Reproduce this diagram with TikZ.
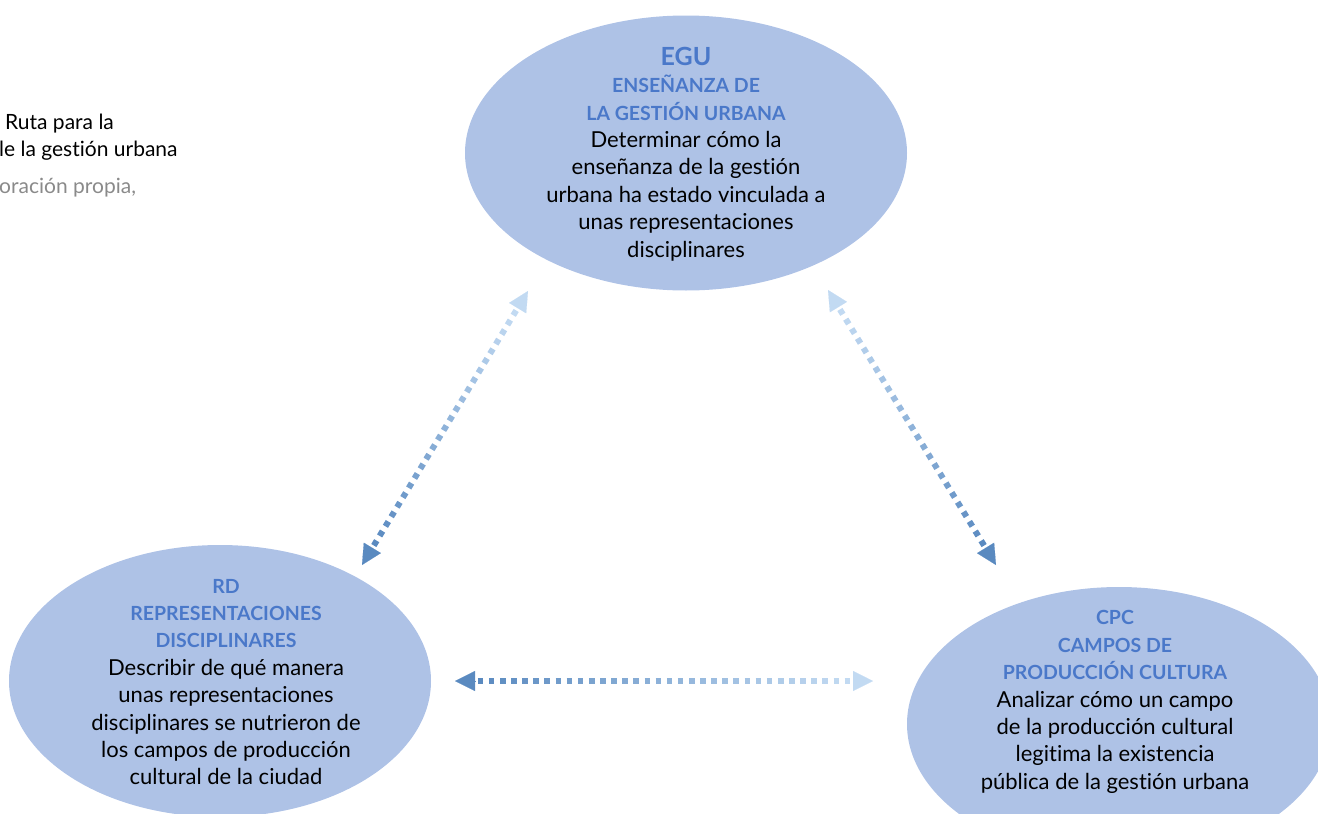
\documentclass[tikz,border=0pt]{standalone}
\usepackage{fontspec}
\setmainfont{Lato}[Ligatures={NoCommon}]
\usetikzlibrary{shapes.geometric,arrows.meta,calc}
\definecolor{ellfill}{HTML}{AEC2E6}
\definecolor{ttlblue}{HTML}{4A78C9}
\definecolor{cdark}{HTML}{5A8AC0}
\definecolor{clight}{HTML}{C2DAF2}
\definecolor{capgray}{HTML}{8A8A8A}
\tikzset{
  ell/.style={ellipse, fill=ellfill, draw=none, inner sep=0pt},
  body/.style={align=center, font=\fontsize{22}{27.4}\selectfont, text=black, inner sep=0pt},
  captext/.style={anchor=west, font=\fontsize{21}{24}\selectfont, inner sep=0pt},
}
\newcommand\ttl[1]{{\color{ttlblue}\bfseries\fontsize{19.5}{27.4}\selectfont #1}}
% #1 dark end, #2 light end, #3 number of dots
\newcommand\gradarrow[3]{%
  \coordinate (ia) at ($(#1)!20pt!(#2)$);
  \coordinate (ib) at ($(#2)!20pt!(#1)$);
  \draw[cdark, line width=0.1pt, -{Triangle[length=20pt,width=20pt]}] (ia) -- (#1);
  \draw[clight, line width=0.1pt, -{Triangle[length=20pt,width=20pt]}] (ib) -- (#2);
  \foreach \i in {0,...,\numexpr#3-1\relax}{%
    \pgfmathsetmacro\fa{(\i+0.25)/#3}%
    \pgfmathsetmacro\fb{(\i+0.75)/#3}%
    \pgfmathtruncatemacro\pc{100-100*\i/(#3-1)}%
    \draw[line width=6pt, color=cdark!\pc!clight] ($(ia)!\fa!(ib)$) -- ($(ia)!\fb!(ib)$);
  }%
}
\begin{document}
\begin{tikzpicture}[x=1pt,y=-1pt]
\useasboundingbox (0,0) rectangle (1318,814);
\clip (0,0) rectangle (1318,814);

% caption fragments
\node[captext] (c1) at (5,124) {Ruta para la};
\node[captext] (c2) at (-1,151) {le la gestión urbana};
\node[captext, text=capgray] (c3) at (-1,188) {oración propia,};

% ellipses
\node[ell, minimum width=442pt, minimum height=275pt] (egu) at (686,153) {};
\node[ell, minimum width=422pt, minimum height=272pt] (rd) at (220,681) {};
\node[ell, minimum width=424pt, minimum height=274pt] (cpc) at (1119,724) {};

\node[body] (egut) at (686,154) {{\color{ttlblue}\bfseries\fontsize{25}{27.4}\selectfont EGU}\\
\ttl{ENSEÑANZA DE}\\ \ttl{LA GESTIÓN URBANA}\\
Determinar cómo la\\ enseñanza de la gestión\\ urbana ha estado vinculada a\\
unas representaciones\\ disciplinares};

\node[body] (rdt) at (226,682) {\ttl{RD}\\ \ttl{REPRESENTACIONES}\\ \ttl{DISCIPLINARES}\\
Describir de qué manera\\ unas representaciones\\ disciplinares se nutrieron de\\
los campos de producción\\ cultural de la ciudad};

\node[body] (cpct) at (1115,702) {\ttl{CPC}\\ \ttl{CAMPOS DE}\\ \ttl{PRODUCCIÓN CULTURA}\\
Analizar cómo un campo\\ de la producción cultural\\ legitima la existencia\\
pública de la gestión urbana};

% arrow end points
\coordinate (l1) at (362,565);
\coordinate (l2) at (528,291);
\coordinate (r1) at (996,565);
\coordinate (r2) at (828,290);
\coordinate (h1) at (455,681);
\coordinate (h2) at (873,681);

\gradarrow{l1}{l2}{25}
\gradarrow{r1}{r2}{25}
\gradarrow{h1}{h2}{34}
\end{tikzpicture}
\end{document}
